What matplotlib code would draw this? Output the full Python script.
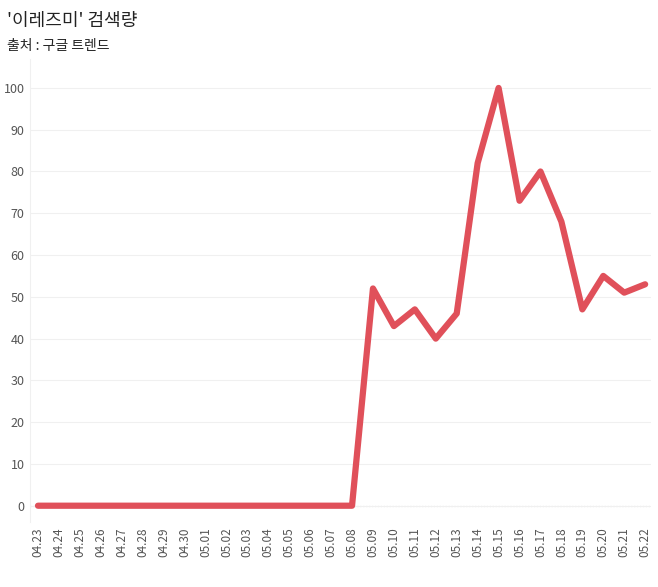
import matplotlib.pyplot as plt

plt.rcParams['font.family'] = ['Noto Sans CJK KR', 'DejaVu Sans']

dates = ['04.23', '04.24', '04.25', '04.26', '04.27', '04.28', '04.29', '04.30',
         '05.01', '05.02', '05.03', '05.04', '05.05', '05.06', '05.07', '05.08',
         '05.09', '05.10', '05.11', '05.12', '05.13', '05.14', '05.15', '05.16',
         '05.17', '05.18', '05.19', '05.20', '05.21', '05.22']
values = [0] * 16 + [52, 43, 47, 40, 46, 82, 100, 73, 80, 68, 47, 55, 51, 53]

fig = plt.figure(figsize=(6.58, 5.87), dpi=100)
ax = fig.add_axes([0.045, 0.11, 0.945, 0.79])

x = list(range(len(dates)))
ax.plot(x, values, color='#e0505a', linewidth=4.5, solid_capstyle='round', solid_joinstyle='round')
ax.axhline(0, color='#aaaaaa', linewidth=0.8, linestyle=':', zorder=0)

ax.set_xlim(-0.4, len(dates) - 0.7)
ax.set_ylim(-4, 107)
ax.set_yticks(range(0, 101, 10))
ax.set_xticks(x)
ax.set_xticklabels(dates, rotation=90, fontsize=8.5, color='#555555')
ax.tick_params(axis='y', labelsize=9, colors='#555555', length=0)
ax.tick_params(axis='x', length=0)
ax.grid(axis='y', color='#f0f0f0', linewidth=0.8)
for y in range(10, 101, 10):
    pass
for s in ['top', 'right', 'bottom']:
    ax.spines[s].set_visible(False)
ax.spines['left'].set_color('#f0f0f0')

fig.text(0.01, 0.965, "'이레즈미' 검색량", fontsize=13, color='#222222', va='center')
fig.text(0.01, 0.922, '출처 : 구글 트렌드', fontsize=10, color='#222222', va='center')

fig.savefig('out.png', dpi=100)
